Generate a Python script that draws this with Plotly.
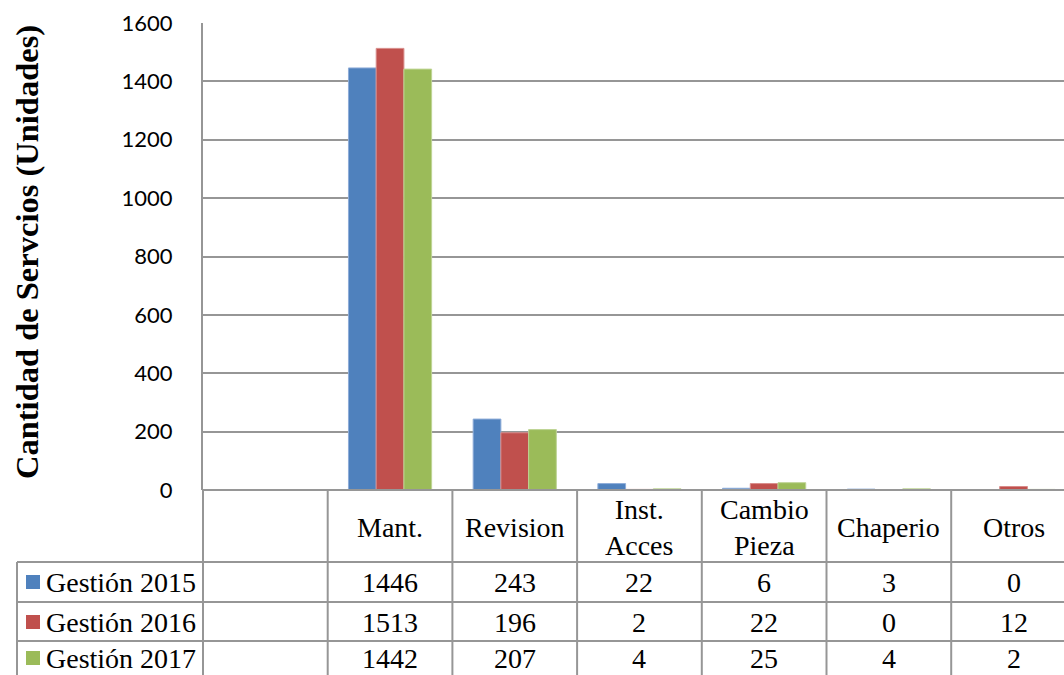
import plotly.graph_objects as go

# Service categories (a blank leading column precedes them in the table)
categories = ["Mant.", "Revision", "Inst.<br>Acces", "Cambio<br>Pieza", "Chaperio", "Otros"]
series_names = ["Gestión 2015", "Gestión 2016", "Gestión 2017"]
gestion_2015 = [1446, 243, 22, 6, 3, 0]
gestion_2016 = [1513, 196, 2, 22, 0, 12]
gestion_2017 = [1442, 207, 4, 25, 4, 2]
series_values = [gestion_2015, gestion_2016, gestion_2017]
colors = ["#4F81BD", "#C0504D", "#9BBB59"]
edge_colors = ["#8EACD8", "#D88C8A", "#BED494"]
y_ticks = [0, 200, 400, 600, 800, 1000, 1200, 1400, 1600]

W, H = 1064, 675
PLOT_LEFT, PLOT_TOP, PLOT_BOTTOM = 203, 23, 490
GRID = "#969696"
SERIF = "Liberation Serif"
TABLE_FONT = 28


def py(pixel_y):
    """Convert a pixel row into paper coordinates."""
    return (H - pixel_y) / H


def px(pixel_x):
    return pixel_x / W


# slot 0 is the empty leading column; categories occupy slots 1..n
positions = [i + 1 for i in range(len(categories))]
slot_px = 124.7
x_max = -0.5 + (W - PLOT_LEFT) / slot_px

fig = go.Figure()
for name, vals, col, edge in zip(series_names, series_values, colors, edge_colors):
    fig.add_trace(go.Bar(
        x=positions, y=vals, name=name,
        marker=dict(color=col, line=dict(color=edge, width=1)),
        showlegend=False,
    ))

shapes = []
annotations = []

# table: vertical separators at category boundaries
row_lines = [562, 602, 641]
for b in range(len(categories) + 1):
    shapes.append(dict(type="line", xref="x", yref="paper",
                       x0=b + 0.5, x1=b + 0.5, y0=py(PLOT_BOTTOM), y1=0,
                       line=dict(color=GRID, width=2)))
# left edge of the plot / blank column
shapes.append(dict(type="line", xref="paper", yref="paper",
                   x0=px(PLOT_LEFT), x1=px(PLOT_LEFT), y0=py(PLOT_BOTTOM), y1=0,
                   line=dict(color=GRID, width=2)))
# left edge of the legend column
shapes.append(dict(type="line", xref="paper", yref="paper",
                   x0=px(17), x1=px(17), y0=py(row_lines[0]), y1=0,
                   line=dict(color=GRID, width=2)))
# axis baseline / table top
shapes.append(dict(type="line", xref="paper", yref="paper",
                   x0=px(PLOT_LEFT), x1=1, y0=py(PLOT_BOTTOM), y1=py(PLOT_BOTTOM),
                   line=dict(color=GRID, width=2)))
for r in row_lines:
    shapes.append(dict(type="line", xref="paper", yref="paper",
                       x0=px(17), x1=1, y0=py(r), y1=py(r),
                       line=dict(color=GRID, width=2)))

# header labels
header_center = (PLOT_BOTTOM + row_lines[0]) / 2
for pos, cat in zip(positions, categories):
    annotations.append(dict(x=pos, y=py(header_center + 1), xref="x", yref="paper",
                            text=cat, showarrow=False,
                            font=dict(family=SERIF, size=TABLE_FONT, color="#000000"),
                            xanchor="center", yanchor="middle"))

# data rows
row_centers = [582, 622, 658]
for rc, name, vals, col in zip(row_centers, series_names, series_values, colors):
    shapes.append(dict(type="rect", xref="paper", yref="paper",
                       x0=px(26), x1=px(40), y0=py(rc + 7), y1=py(rc - 7),
                       fillcolor=col, line=dict(width=0)))
    annotations.append(dict(x=px(44), y=py(rc), xref="paper", yref="paper",
                            text=name, showarrow=False,
                            font=dict(family=SERIF, size=TABLE_FONT, color="#000000"),
                            xanchor="left", yanchor="middle"))
    for pos, v in zip(positions, vals):
        annotations.append(dict(x=pos, y=py(rc), xref="x", yref="paper",
                                text=str(v), showarrow=False,
                                font=dict(family=SERIF, size=TABLE_FONT, color="#000000"),
                                xanchor="center", yanchor="middle"))

# y-axis title
annotations.append(dict(x=px(27), y=py(252), xref="paper", yref="paper",
                        text="<b>Cantidad de Servcios (Unidades)</b>", textangle=-90,
                        showarrow=False,
                        font=dict(family=SERIF, size=32.5, color="#000000"),
                        xanchor="center", yanchor="middle"))

fig.update_layout(
    width=W, height=H,
    margin=dict(l=0, r=0, t=0, b=0, autoexpand=False),
    paper_bgcolor="white", plot_bgcolor="white",
    barmode="group", bargap=0.333, bargroupgap=0,
    xaxis=dict(domain=[px(PLOT_LEFT), 1], range=[-0.5, x_max],
               showticklabels=False, showgrid=False, zeroline=False,
               showline=False, fixedrange=True, automargin=False),
    yaxis=dict(domain=[py(PLOT_BOTTOM), py(PLOT_TOP)], range=[0, 1600],
               tickvals=y_ticks, showgrid=True, gridcolor=GRID, gridwidth=2,
               zeroline=False, showline=True, linecolor=GRID, linewidth=2,
               ticks="", ticklabelstandoff=24, automargin=False,
               tickfont=dict(family="Lato", size=22, color="#000000")),
    shapes=shapes,
    annotations=annotations,
)

fig.write_html("out.html")
